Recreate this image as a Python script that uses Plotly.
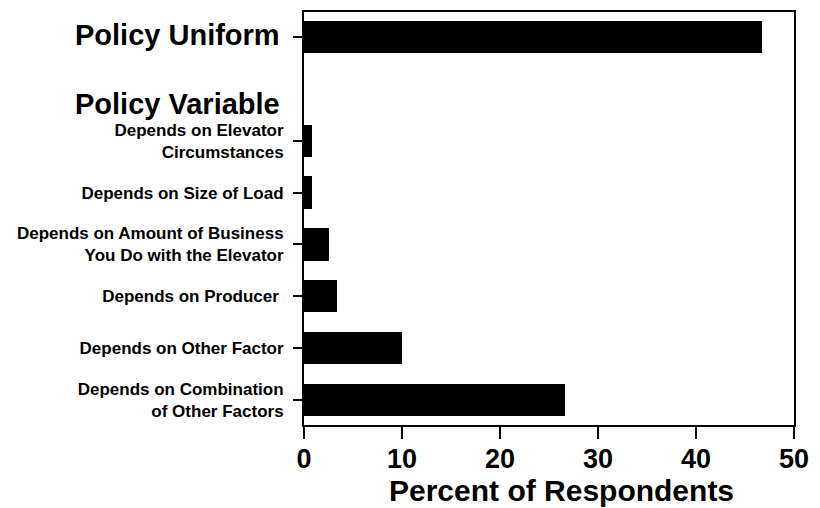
import plotly.graph_objects as go

# Data
categories = [
    "Policy Uniform",
    "Policy Variable",
    "Depends on Elevator<br>Circumstances",
    "Depends on Size of Load",
    "Depends on Amount of Business<br>You Do with the Elevator",
    "Depends on Producer ",
    "Depends on Other Factor",
    "Depends on Combination<br>of Other Factors",
]
values = [46.7, None, 0.82, 0.82, 2.55, 3.37, 10.0, 26.6]
header_labels = ["Policy Uniform", "Policy Variable"]
x_ticks = [0, 10, 20, 30, 40, 50]
x_title = "Percent of Respondents"

FONT = "Liberation Sans, Arial, Helvetica, sans-serif"

positions = list(range(len(categories)))
bar_y = [p for p, v in zip(positions, values) if v is not None]
bar_x = [v for v in values if v is not None]

fig = go.Figure()
fig.add_trace(go.Bar(
    x=bar_x, y=bar_y, orientation="h",
    marker=dict(color="black", line=dict(width=0)),
    width=0.62, showlegend=False, hoverinfo="skip",
))

tickvals = [p for p, c in zip(positions, categories) if c != "Policy Variable"]
ticktext = ["" if c in header_labels else c for c in categories if c != "Policy Variable"]

# page body has an 8px default margin, so the figure is sized to fit the window
fig.update_layout(
    width=812, height=500,
    margin=dict(l=296, r=26, t=4, b=83, autoexpand=False),
    paper_bgcolor="white", plot_bgcolor="white",
    font=dict(family=FONT, color="black"),
    bargap=0,
)
fig.update_yaxes(
    range=[len(categories) - 1 + 0.48, -0.48],
    tickvals=tickvals, ticktext=ticktext, automargin=False,
    tickfont=dict(size=17, family=FONT, color="black", weight="bold"),
    ticks="outside", ticklen=9, tickwidth=2, tickcolor="black",
    showline=True, linewidth=2, linecolor="black", mirror=True,
    showgrid=False, zeroline=False, ticklabelstandoff=6,
)
fig.update_xaxes(
    range=[0, 50], tickvals=x_ticks, automargin=False,
    tickfont=dict(size=27, family=FONT, color="black", weight="bold"),
    ticks="outside", ticklen=12, tickwidth=2, tickcolor="black",
    showline=True, linewidth=2, linecolor="black", mirror=True,
    showgrid=False, zeroline=False, ticklabelstandoff=-3,
)

fig.add_annotation(
    x=0.5, xref="paper", y=0, yref="paper",
    text=x_title, showarrow=False, xanchor="center", yanchor="top",
    xshift=12, yshift=-47,
    font=dict(size=30, family=FONT, color="black", weight="bold"),
)

for lab in header_labels:
    idx = categories.index(lab)
    fig.add_annotation(
        x=0, xref="paper", y=idx, yref="y",
        text=lab, showarrow=False, xanchor="right", yanchor="middle",
        xshift=-22, yshift=(-15 if lab == "Policy Variable" else 2),
        font=dict(size=29, family=FONT, color="black", weight="bold"),
    )

fig.write_html("out.html")
